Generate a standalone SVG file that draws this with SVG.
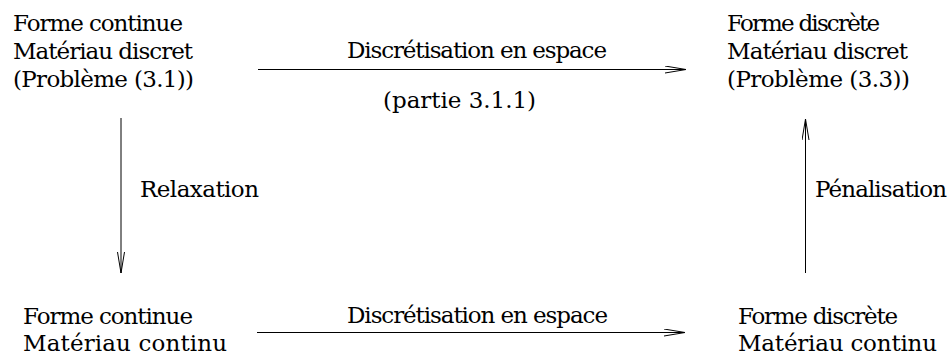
<svg xmlns="http://www.w3.org/2000/svg" width="951" height="356" viewBox="0 0 951 356">
<style>
text{font-family:'DejaVu Serif','Liberation Serif',serif;font-size:23px;fill:#000}
.c{stroke:#000;stroke-width:1;fill:none}
</style>
<defs>
<marker id="ah" markerUnits="userSpaceOnUse" viewBox="0 0 22 8" refX="21" refY="4" markerWidth="22" markerHeight="8" orient="auto">
<path d="M0,0.5 L21,4 L0,7.5" fill="none" stroke="#000" stroke-width="1"/>
</marker>
</defs>
<g id="n1">
<text x="13" y="31" textLength="170" lengthAdjust="spacing">Forme continue</text>
<text x="13" y="59" textLength="180" lengthAdjust="spacing">Matériau discret</text>
<text x="13" y="87" textLength="181" lengthAdjust="spacing">(Problème (3.1))</text>
</g>
<g id="n2">
<text x="727" y="31" textLength="153" lengthAdjust="spacing">Forme discrète</text>
<text x="727" y="59" textLength="181" lengthAdjust="spacing">Matériau discret</text>
<text x="727" y="87" textLength="183" lengthAdjust="spacing">(Problème (3.3))</text>
</g>
<g id="n3">
<text x="23" y="324" textLength="170" lengthAdjust="spacing">Forme continue</text>
<text x="23" y="351" textLength="204" lengthAdjust="spacing">Matériau continu</text>
</g>
<g id="n4">
<text x="738" y="324" textLength="160" lengthAdjust="spacing">Forme discrète</text>
<text x="738" y="351" textLength="199" lengthAdjust="spacing">Matériau continu</text>
</g>
<g id="connectors">
<line class="c" x1="258" y1="69.5" x2="686" y2="69.5" marker-end="url(#ah)"/>
<line class="c" x1="257" y1="332.5" x2="685" y2="332.5" marker-end="url(#ah)"/>
<line class="c" x1="121" y1="118" x2="121" y2="273" marker-end="url(#ah)"/>
<line class="c" x1="805.5" y1="273" x2="805.5" y2="119" marker-end="url(#ah)"/>
<text x="347" y="58" textLength="260" lengthAdjust="spacing">Discrétisation en espace</text>
<text x="383" y="108" textLength="153" lengthAdjust="spacing">(partie 3.1.1)</text>
<text x="347" y="323" textLength="261" lengthAdjust="spacing">Discrétisation en espace</text>
<text x="140" y="197" textLength="119" lengthAdjust="spacing">Relaxation</text>
<text x="815" y="197" textLength="132" lengthAdjust="spacing">Pénalisation</text>
</g>
</svg>
